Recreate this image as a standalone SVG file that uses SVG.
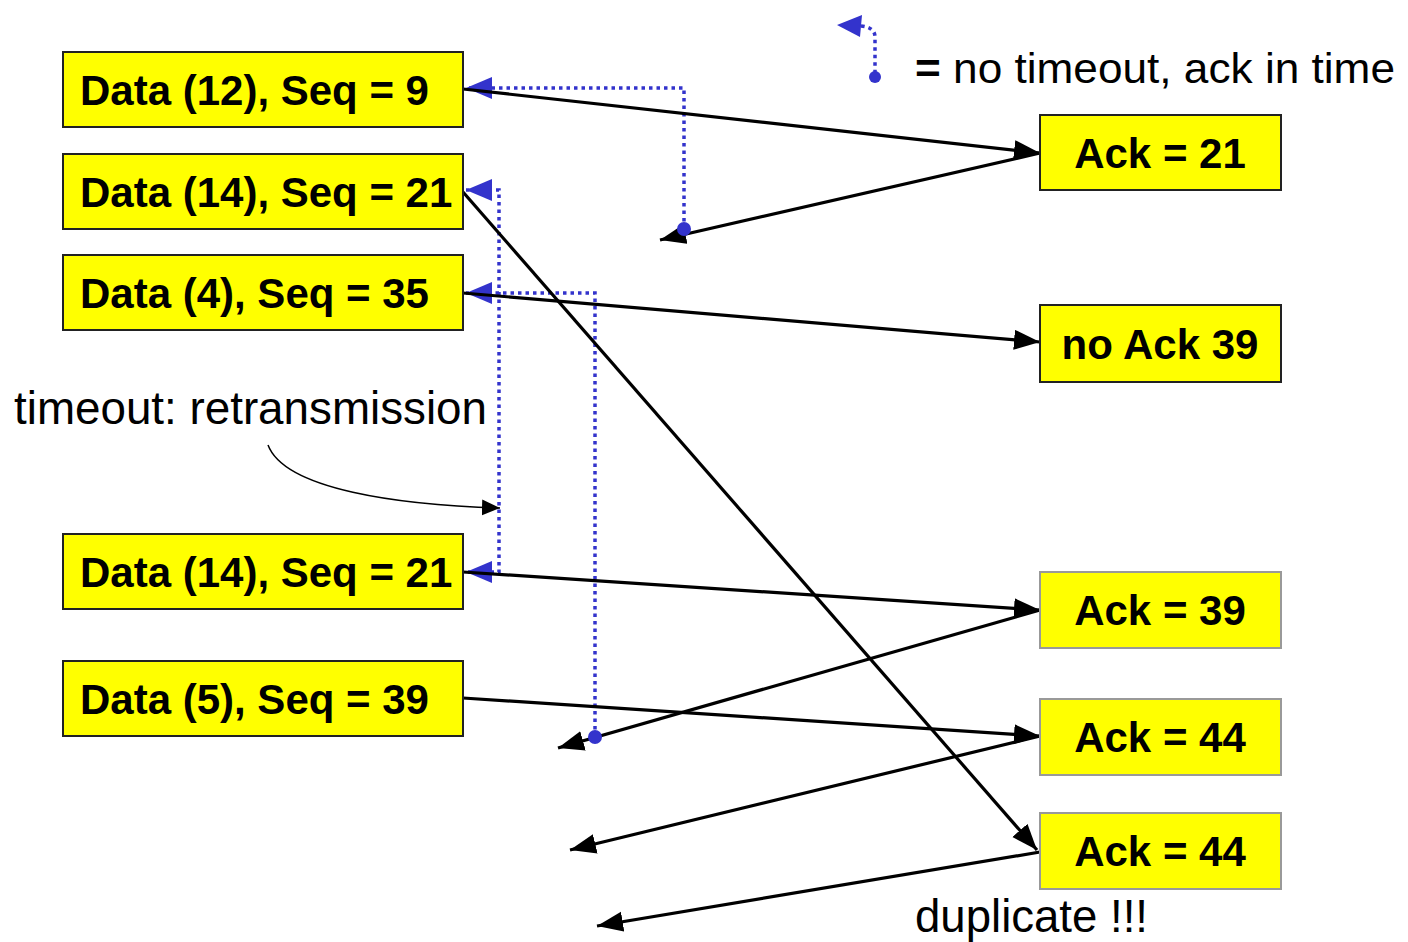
<svg xmlns="http://www.w3.org/2000/svg" width="1408" height="942" viewBox="0 0 1408 942">
<style>
.box{fill:#ffff00;stroke:#222;stroke-width:2}
.gbox{fill:#ffff00;stroke:#999;stroke-width:2}
.bt{font-family:"Liberation Sans",Arial,sans-serif;font-weight:bold;font-size:42px;fill:#000}
.lt{font-family:"Liberation Sans",Arial,sans-serif;font-size:46px;fill:#000}
.bl{stroke:#000;stroke-width:3.2;fill:none;marker-end:url(#ab)}
.dt{stroke:#3333cc;stroke-width:3.5;fill:none;stroke-dasharray:3.5 4}
.dot{fill:#3333cc}
</style>
<defs>
<marker id="ab" markerUnits="userSpaceOnUse" markerWidth="28" markerHeight="22" refX="26" refY="10" orient="auto"><path d="M0,0 L26,10 L0,20 z" fill="#000"/></marker>
<marker id="abs" markerUnits="userSpaceOnUse" markerWidth="20" markerHeight="18" refX="18" refY="8" orient="auto"><path d="M0,0 L18,8 L0,16 z" fill="#000"/></marker>
<marker id="bb" markerUnits="userSpaceOnUse" markerWidth="28" markerHeight="24" refX="26" refY="11" orient="auto-start-reverse"><path d="M0,0 L26,11 L0,22 z" fill="#3333cc"/></marker>
</defs>

<g id="legend">
<path d="M861,26 Q874,27 875,36 V72" class="dt"/>
<polygon points="837,25 862,15 860,37" fill="#3333cc"/>
<circle cx="875" cy="77" r="6" class="dot"/>
<text x="915" y="83" class="lt" font-size="43" textLength="480" lengthAdjust="spacingAndGlyphs" style="font-size:43px"><tspan font-weight="bold">=</tspan> no timeout, ack in time</text>
</g>

<g id="connectors">
<path class="dt" d="M684,229 V88 H466" marker-end="url(#bb)"/>
<path class="dt" d="M466,190 H499 V572 H466" marker-start="url(#bb)" marker-end="url(#bb)"/>
<path class="dt" d="M595,737 V293 H466" marker-end="url(#bb)"/>
<path class="bl" d="M463,89 L1040,153"/>
<path class="bl" d="M1040,153 L660,240"/>
<path class="bl" d="M463,192 L1037,850"/>
<path class="bl" d="M463,293 L1040,342"/>
<path class="bl" d="M463,572 L1040,610"/>
<path class="bl" d="M1040,610 L558,748"/>
<path class="bl" d="M463,698 L1040,736"/>
<path class="bl" d="M1040,736 L570,850"/>
<path class="bl" d="M1040,852 L597,926"/>
<path d="M268,445 C285,490 400,505 500,508" stroke="#000" stroke-width="1.5" fill="none" marker-end="url(#abs)"/>
<circle cx="684" cy="229" r="7" class="dot"/>
<circle cx="595" cy="737" r="7" class="dot"/>
</g>

<g id="data1"><rect x="63" y="52" width="400" height="75" class="box"/><text x="80" y="105" class="bt">Data (12), Seq = 9</text></g>
<g id="data2"><rect x="63" y="154" width="400" height="75" class="box"/><text x="80" y="207" class="bt">Data (14), Seq = 21</text></g>
<g id="data3"><rect x="63" y="255" width="400" height="75" class="box"/><text x="80" y="308" class="bt">Data (4), Seq = 35</text></g>
<g id="data4"><rect x="63" y="534" width="400" height="75" class="box"/><text x="80" y="587" class="bt">Data (14), Seq = 21</text></g>
<g id="data5"><rect x="63" y="661" width="400" height="75" class="box"/><text x="80" y="714" class="bt">Data (5), Seq = 39</text></g>

<g id="ack21"><rect x="1040" y="115" width="241" height="75" class="box"/><text x="1160" y="168" text-anchor="middle" class="bt">Ack = 21</text></g>
<g id="noack39"><rect x="1040" y="305" width="241" height="77" class="box"/><text x="1160" y="359" text-anchor="middle" class="bt">no Ack 39</text></g>
<g id="ack39"><rect x="1040" y="572" width="241" height="76" class="gbox"/><text x="1160" y="625" text-anchor="middle" class="bt">Ack = 39</text></g>
<g id="ack44a"><rect x="1040" y="699" width="241" height="76" class="gbox"/><text x="1160" y="752" text-anchor="middle" class="bt">Ack = 44</text></g>
<g id="ack44b"><rect x="1040" y="813" width="241" height="76" class="gbox"/><text x="1160" y="866" text-anchor="middle" class="bt">Ack = 44</text></g>

<g id="labels">
<text x="14" y="424" class="lt" textLength="473" lengthAdjust="spacingAndGlyphs">timeout: retransmission</text>
<text x="915" y="932" class="lt" textLength="233" lengthAdjust="spacingAndGlyphs">duplicate !!!</text>
</g>
</svg>
